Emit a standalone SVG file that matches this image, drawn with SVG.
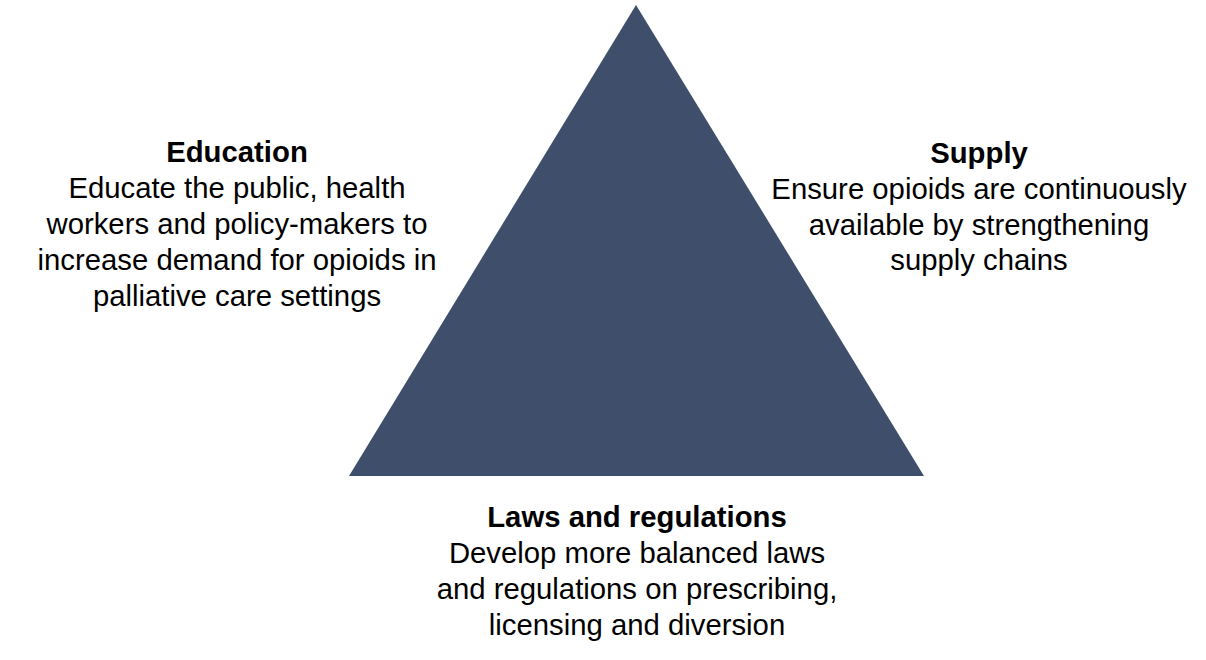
<svg xmlns="http://www.w3.org/2000/svg" width="1206" height="660" viewBox="0 0 1206 660">
<style>
text{font-family:"Liberation Sans",Arial,sans-serif;font-size:29.3px;fill:#000;text-anchor:middle}
.h{font-weight:bold}
</style>
<rect width="1206" height="660" fill="#fff"/>
<g id="triangle"><polygon points="636,5 349,476 924,476" fill="#3f4f6b"/></g>
<g id="education">
<text x="237" y="162" class="h">Education</text>
<text x="237" y="198">Educate the public, health</text>
<text x="237" y="234">workers and policy-makers to</text>
<text x="237" y="270">increase demand for opioids in</text>
<text x="237" y="306">palliative care settings</text>
</g>
<g id="supply">
<text x="979" y="163" class="h">Supply</text>
<text x="979" y="199">Ensure opioids are continuously</text>
<text x="979" y="235">available by strengthening</text>
<text x="979" y="270">supply chains</text>
</g>
<g id="laws">
<text x="637" y="527" class="h">Laws and regulations</text>
<text x="637" y="563">Develop more balanced laws</text>
<text x="637" y="599">and regulations on prescribing,</text>
<text x="637" y="635">licensing and diversion</text>
</g>
<g id="connectors"/>
</svg>
